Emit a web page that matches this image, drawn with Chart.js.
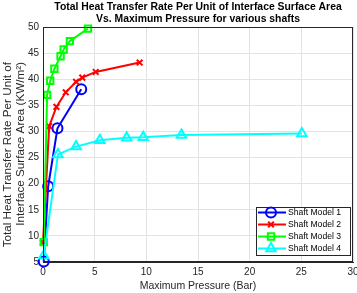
<!DOCTYPE html>
<html>
<head>
<meta charset="utf-8">
<script src="https://cdn.jsdelivr.net/npm/chart.js@4.4.1/dist/chart.umd.min.js"></script>
<style>
  html, body { margin: 0; padding: 0; background: #fff; }
  canvas { display: block; }
</style>
</head>
<body>
<canvas id="heatChart" width="357" height="293"></canvas>
<script>
// values
const seriesNames = ['Shaft Model 1', 'Shaft Model 2', 'Shaft Model 3', 'Shaft Model 4'];

const model1X = [0.07, 0.5, 1.4, 3.7];
const model1Y = [5.1, 19.5, 30.6, 38.1];

const model2X = [0.0, 0.6, 1.3, 2.2, 3.2, 3.8, 5.1, 9.35];
const model2Y = [8.7, 31.0, 34.7, 37.5, 39.5, 40.3, 41.4, 43.2];

const model3X = [0.07, 0.4, 0.7, 1.1, 1.7, 2.0, 2.6, 4.35];
const model3Y = [8.8, 37.0, 39.7, 42.0, 44.4, 45.7, 47.3, 49.7];

const model4X = [0.07, 1.45, 3.2, 5.5, 8.1, 9.7, 13.4, 25.05];
const model4Y = [6.2, 25.6, 27.1, 28.3, 28.8, 28.9, 29.3, 29.6];

const xTicks = [0, 5, 10, 15, 20, 25, 30];
const yTicks = [5, 10, 15, 20, 25, 30, 35, 40, 45, 50];

const titleLines = ['Total Heat Transfer Rate Per Unit of Interface Surface Area',
                    'Vs. Maximum Pressure for various shafts'];
const yTitleLines = ['Total Heat Transfer Rate Per Unit of', 'Interface Surface Area (KW/m\u00B2)'];
const xTitle = 'Maximum Pressure (Bar)';

const colors = ['#0000ff', '#ff0000', '#00ff00', '#00ffff'];
const markers = ['circle', 'crossRot', 'rect', 'triangle'];
const markerSizes = [5, 4, 4.5, 5.5];

function toPoints(xs, ys) {
    return xs.map((x, i) => ({ x: x, y: ys[i] }));
}

const allX = [model1X, model2X, model3X, model4X];
const allY = [model1Y, model2Y, model3Y, model4Y];

const datasets = seriesNames.map((name, i) => ({
    label: name,
    data: toPoints(allX[i], allY[i]),
    borderColor: colors[i],
    backgroundColor: colors[i],
    borderWidth: 2,
    pointStyle: markers[i],
    pointRadius: markerSizes[i],
    pointBorderWidth: 2,
    pointBackgroundColor: 'rgba(0,0,0,0)',
    pointBorderColor: colors[i],
    tension: 0,
    clip: false,
    order: 4 - i
}));

const FONT = "'Liberation Sans', Arial, sans-serif";

function drawMarker(ctx, style, x, y, r) {
    ctx.beginPath();
    if (style === 'circle') {
        ctx.arc(x, y, r, 0, Math.PI * 2);
    } else if (style === 'crossRot') {
        const d = r * Math.SQRT1_2;
        ctx.moveTo(x - d, y - d); ctx.lineTo(x + d, y + d);
        ctx.moveTo(x - d, y + d); ctx.lineTo(x + d, y - d);
    } else if (style === 'rect') {
        const s = r * Math.SQRT1_2;
        ctx.rect(x - s, y - s, 2 * s, 2 * s);
    } else if (style === 'triangle') {
        ctx.moveTo(x - r * 0.866, y + r * 0.5);
        ctx.lineTo(x, y - r);
        ctx.lineTo(x + r * 0.866, y + r * 0.5);
        ctx.closePath();
    }
    ctx.stroke();
}

const overlay = {
    id: 'overlay',
    afterDraw(chart) {
        const ctx = chart.ctx;
        const a = chart.chartArea;
        ctx.save();

        // axes box
        ctx.strokeStyle = '#262626';
        ctx.lineWidth = 1;
        ctx.strokeRect(a.left + 0.5, a.top + 0.5, a.right - a.left - 1, a.bottom - a.top - 1);

        // title
        const cx = (a.left + a.right) / 2;
        ctx.fillStyle = '#000';
        ctx.textAlign = 'center';
        ctx.textBaseline = 'middle';
        ctx.font = 'bold 10.4px ' + FONT;
        ctx.fillText(titleLines[0], cx, 7.5);
        ctx.fillText(titleLines[1], cx, 19.5);

        // x title
        ctx.fillStyle = '#262626';
        ctx.font = '10.5px ' + FONT;
        ctx.fillText(xTitle, cx, 286);

        // y title, both lines start at the same top
        ctx.font = '11.7px ' + FONT;
        ctx.textAlign = 'right';
        yTitleLines.forEach((line, i) => {
            ctx.save();
            ctx.translate(8 + i * 13, 62);
            ctx.rotate(-Math.PI / 2);
            ctx.fillText(line, 0, 0);
            ctx.restore();
        });

        // legend box (bottom right, inside axes)
        const lx = 256, ly = 207, lw = 94, lh = 48;
        ctx.fillStyle = '#fff';
        ctx.fillRect(lx, ly, lw, lh);
        ctx.strokeStyle = '#262626';
        ctx.lineWidth = 1;
        ctx.strokeRect(lx + 0.5, ly + 0.5, lw, lh);
        ctx.font = '8.6px ' + FONT;
        ctx.textAlign = 'left';
        seriesNames.forEach((name, i) => {
            const y = ly + 5.5 + i * 12;
            ctx.strokeStyle = colors[i];
            ctx.lineWidth = 2;
            ctx.beginPath();
            ctx.moveTo(lx + 2, y);
            ctx.lineTo(lx + 30, y);
            ctx.stroke();
            drawMarker(ctx, markers[i], lx + 15, y, markerSizes[i]);
            ctx.fillStyle = '#000';
            ctx.fillText(name, lx + 32, y + 0.5);
        });
        ctx.restore();
    }
};

const ctx = document.getElementById('heatChart').getContext('2d');
const heatChart = new Chart(ctx, {
    type: 'line',
    data: { datasets: datasets },
    options: {
        responsive: false,
        animation: false,
        layout: { autoPadding: false, padding: { top: 27, right: 4, left: 0, bottom: 0 } },
        plugins: {
            legend: { display: false },
            title: { display: false },
            tooltip: { enabled: false }
        },
        scales: {
            x: {
                type: 'linear',
                min: 0,
                max: 30,
                afterFit: (scale) => {
                    scale.height = 31;
                    scale.paddingLeft = 0;
                    scale.paddingRight = 0;
                },
                afterBuildTicks: (scale) => { scale.ticks = xTicks.map(v => ({ value: v })); },
                ticks: { padding: 4, color: '#262626', font: { family: FONT, size: 10 } },
                grid: { color: '#e3e3e3', drawTicks: false },
                border: { color: '#262626' }
            },
            y: {
                type: 'linear',
                min: 5,
                max: 50,
                afterFit: (scale) => { scale.width = 43; },
                afterBuildTicks: (scale) => { scale.ticks = yTicks.map(v => ({ value: v })); },
                ticks: { padding: 4, color: '#262626', font: { family: FONT, size: 10 } },
                grid: { color: '#e3e3e3', drawTicks: false },
                border: { color: '#262626' }
            }
        }
    },
    plugins: [overlay]
});
</script>
</body>
</html>
